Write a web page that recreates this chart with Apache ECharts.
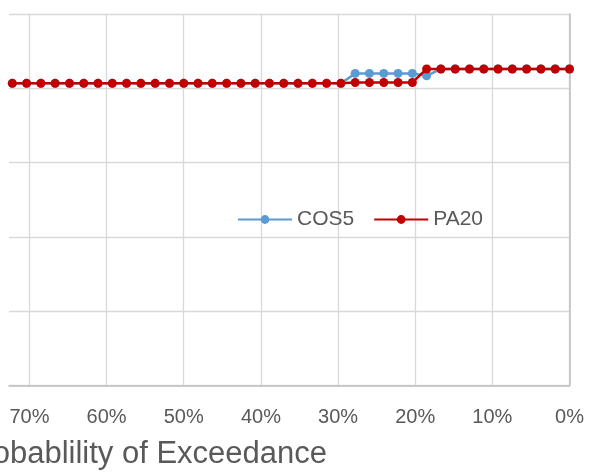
<!DOCTYPE html>
<html>
<head>
<meta charset="utf-8">
<script src="https://cdn.jsdelivr.net/npm/echarts@6/dist/echarts.min.js"></script>
<style>
  html, body { margin: 0; padding: 0; background: #ffffff; }
  #chart { width: 589px; height: 474px; }
</style>
</head>
<body>
<div id="chart"></div>
<script>
// Probability of exceedance (%) for each ranked event, from highest to lowest
const exceedance = [
  72.22, 70.37, 68.52, 66.67, 64.81, 62.96, 61.11, 59.26, 57.41, 55.56,
  53.70, 51.85, 50.00, 48.15, 46.30, 44.44, 42.59, 40.74, 38.89, 37.04,
  35.19, 33.33, 31.48, 29.63, 27.78, 25.93, 24.07, 22.22, 20.37, 18.52,
  16.67, 14.81, 12.96, 11.11, 9.26, 7.41, 5.56, 3.70, 1.85, 0.00
];

const cos5 = [
  40.66, 40.66, 40.66, 40.66, 40.66, 40.66, 40.66, 40.66, 40.66, 40.66,
  40.66, 40.66, 40.66, 40.66, 40.66, 40.66, 40.66, 40.66, 40.66, 40.66,
  40.66, 40.66, 40.66, 40.66, 42.00, 42.00, 42.00, 42.00, 42.00, 41.68,
  42.60, 42.60, 42.60, 42.60, 42.60, 42.60, 42.60, 42.60, 42.60, 42.60
];

const pa20 = [
  40.66, 40.66, 40.66, 40.66, 40.66, 40.66, 40.66, 40.66, 40.66, 40.66,
  40.66, 40.66, 40.66, 40.66, 40.66, 40.66, 40.66, 40.66, 40.66, 40.66,
  40.66, 40.66, 40.66, 40.66, 40.78, 40.78, 40.78, 40.78, 40.78, 42.60,
  42.60, 42.60, 42.60, 42.60, 42.60, 42.60, 42.60, 42.60, 42.60, 42.60
];

const xTicks = [0, 10, 20, 30, 40, 50, 60, 70];

const pairs = (ys) => exceedance.map((x, i) => [x, ys[i]]);

const chart = echarts.init(document.getElementById('chart'), null, { renderer: 'canvas' });

const font = 'Liberation Sans';
const textGrey = '#595959';

chart.setOption({
  animation: false,
  backgroundColor: '#ffffff',
  title: {
    text: 'Probablility of Exceedance',
    right: 262,
    top: 439,
    padding: 0,
    textStyle: { fontFamily: font, fontSize: 31, fontWeight: 'normal', color: textGrey }
  },
  legend: {
    left: 237,
    top: 209,
    padding: 0,
    itemWidth: 54,
    itemHeight: 11,
    itemGap: 19,
    textStyle: { fontFamily: font, fontSize: 21, color: textGrey, padding: [0, 0, 0, 0] },
    data: ['COS5', 'PA20']
  },
  grid: {
    left: 9,
    right: 19.5,
    top: 14,
    bottom: 88.7,
    containLabel: false,
    outerBoundsMode: 'none'
  },
  xAxis: {
    type: 'value',
    inverse: true,
    min: 0,
    max: 72.65,
    interval: 10,
    axisLine: { show: true, lineStyle: { color: '#BFBFBF', width: 1.5 } },
    axisTick: { show: false },
    splitLine: { show: true, showMaxLine: false, lineStyle: { color: '#D9D9D9', width: 1.3 } },
    axisLabel: {
      showMaxLabel: false,
      margin: 22,
      fontFamily: font,
      fontSize: 20,
      color: textGrey,
      formatter: (v) => (xTicks.indexOf(Math.round(v)) >= 0 && Math.abs(v - Math.round(v)) < 1e-6) ? Math.round(v) + '%' : ''
    }
  },
  yAxis: {
    type: 'value',
    position: 'right',
    min: 0,
    max: 50,
    interval: 10,
    axisLine: { show: true, lineStyle: { color: '#BFBFBF', width: 1.5 } },
    axisTick: { show: false },
    axisLabel: { show: false },
    splitLine: { show: true, lineStyle: { color: '#D9D9D9', width: 1.3 } }
  },
  series: [
    {
      name: 'COS5',
      type: 'line',
      data: pairs(cos5),
      symbol: 'circle',
      symbolSize: 9,
      color: '#5B9BD5',
      lineStyle: { color: '#5B9BD5', width: 2.5 },
      itemStyle: { color: '#5B9BD5' },
      z: 2
    },
    {
      name: 'PA20',
      type: 'line',
      data: pairs(pa20),
      symbol: 'circle',
      symbolSize: 9,
      color: '#C00000',
      lineStyle: { color: '#C00000', width: 2.5 },
      itemStyle: { color: '#C00000' },
      z: 3
    }
  ]
});
</script>
</body>
</html>
